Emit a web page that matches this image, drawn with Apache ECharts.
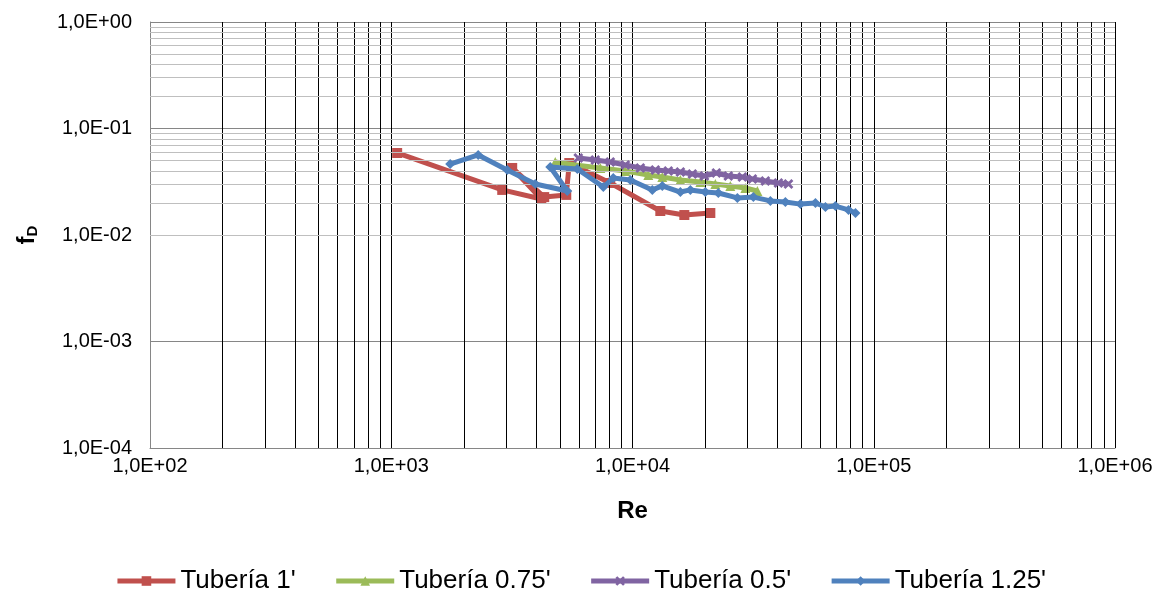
<!DOCTYPE html>
<html>
<head>
<meta charset="utf-8">
<script src="https://cdn.jsdelivr.net/npm/echarts@6/dist/echarts.min.js"></script>
<style>
  html, body { margin: 0; padding: 0; background: #fff; }
  #chart { width: 1161px; height: 594px; }
</style>
</head>
<body>
<div id="chart"></div>
<script>
// Re and f_D, one pair of arrays per pipe
const re1 = [1058, 2884, 4188, 3172, 4306, 5314, 5470, 8091, 13040, 16400, 21020]
const f1 = [0.0589, 0.0265, 0.0218, 0.0426, 0.0227, 0.0238, 0.0474, 0.0308, 0.0168, 0.0154, 0.0161]

const re075 = [4784, 5790, 7354, 9335, 11630, 13290, 15790, 19110, 22050, 25440, 29360, 32930]
const f075 = [0.0485, 0.0454, 0.0426, 0.0399, 0.0366, 0.0350, 0.0328, 0.0315, 0.0301, 0.0289, 0.0276, 0.0259]

const re05 = [5961, 7010, 8088, 9335, 10775, 12435, 14075, 15790, 17700, 19860, 22260, 24960, 28540, 31400, 35540, 40240, 44280]
const f05 = [0.0528, 0.0506, 0.0485, 0.0454, 0.0426, 0.0408, 0.0399, 0.0390, 0.0374, 0.0358, 0.0382, 0.0358, 0.0350, 0.0336, 0.0321, 0.0308, 0.0301]

const re125 = [1755, 2293, 3025, 3953, 5365, 4561, 5904, 7569, 8324, 9793, 12080, 13290, 15790, 17370, 20040, 22690, 27210, 31700, 37290, 43030, 49660, 57310, 63050, 69370, 78570, 83990]
const f125 = [0.0464, 0.0564, 0.0408, 0.0301, 0.0259, 0.0435, 0.0417, 0.0282, 0.0343, 0.0328, 0.0265, 0.0289, 0.0253, 0.0265, 0.0253, 0.0248, 0.0223, 0.0227, 0.0209, 0.0204, 0.0195, 0.0200, 0.0183, 0.0187, 0.0172, 0.0161]

const seriesNames = ["Tubería 1'", "Tubería 0.75'", "Tubería 0.5'", "Tubería 1.25'"]

const font = 'Liberation Sans, Arial, sans-serif'

function zip(xs, ys) {
  return xs.map((x, i) => [x, ys[i]])
}

// 1,0E+03 style labels like excel
function sci(v) {
  let e = Math.round(Math.log10(v))
  let s = Math.abs(e) < 10 ? '0' + Math.abs(e) : '' + Math.abs(e)
  return '1,0E' + (e < 0 ? '-' : '+') + s
}

// minor grid lines 2..9 in every decade
function minors(from, to) {
  let out = []
  for (let d = from; d < to; d++) {
    for (let k = 2; k <= 9; k++) out.push(k * Math.pow(10, d))
  }
  return out
}

const crossPath = 'path://M0,2L2,0L5,3L8,0L10,2L7,5L10,8L8,10L5,7L2,10L0,8L3,5Z'

const option = {
  animation: false,
  grid: { left: 150, right: 46, top: 22, bottom: 146 },
  legend: {
    top: 563,
    left: 'center',
    itemWidth: 58,
    itemHeight: 12,
    itemGap: 38,
    lineStyle: { width: 5 },
    textStyle: { fontFamily: font, fontSize: 26, color: '#000' },
    data: seriesNames
  },
  xAxis: {
    type: 'log',
    logBase: 10,
    min: 100,
    max: 1000000,
    name: 'Re',
    nameLocation: 'middle',
    nameGap: 51,
    nameTextStyle: { fontFamily: font, fontSize: 24, fontWeight: 'bold', color: '#000' },
    axisLine: { lineStyle: { color: '#868686' } },
    axisTick: { show: false },
    axisLabel: { formatter: sci, fontFamily: font, fontSize: 20, color: '#000', margin: 8 },
    splitLine: { show: true, lineStyle: { color: '#000', width: 1 } }
  },
  yAxis: {
    type: 'log',
    logBase: 10,
    min: 0.0001,
    max: 1,
    name: '{f|f}{d|D}',
    nameLocation: 'middle',
    nameRotate: 90,
    nameGap: 110,
    nameTextStyle: {
      rich: {
        f: { fontFamily: font, fontSize: 24, fontWeight: 'bold', color: '#000' },
        d: { fontFamily: font, fontSize: 15, fontWeight: 'bold', color: '#000', verticalAlign: 'bottom', padding: [10, 0, 0, 0] }
      }
    },
    axisLine: { show: true, lineStyle: { color: '#868686' } },
    axisTick: { show: false },
    axisLabel: { formatter: sci, fontFamily: font, fontSize: 20, color: '#000', margin: 18 },
    splitLine: { show: true, lineStyle: { color: '#868686', width: 1 } }
  },
  series: [
    {
      // grid only
      type: 'line',
      data: [],
      silent: true,
      z: 1,
      markLine: {
        silent: true,
        symbol: 'none',
        label: { show: false },
        animation: false,
        data: minors(2, 6).map(v => ({ xAxis: v, lineStyle: { color: '#000', width: 1, type: 'solid' } }))
          .concat(minors(-4, 0).map(v => ({ yAxis: v, lineStyle: { color: '#bfbfbf', width: 1, type: 'solid' } })))
      }
    },
    {
      name: seriesNames[0],
      type: 'line',
      data: zip(re1, f1),
      symbol: 'rect',
      symbolSize: 10,
      lineStyle: { color: '#c0504d', width: 5 },
      itemStyle: { color: '#c0504d' },
      z: 3
    },
    {
      name: seriesNames[1],
      type: 'line',
      data: zip(re075, f075),
      symbol: 'triangle',
      symbolSize: 10,
      lineStyle: { color: '#9bbb59', width: 5 },
      itemStyle: { color: '#9bbb59' },
      z: 4
    },
    {
      name: seriesNames[2],
      type: 'line',
      data: zip(re05, f05),
      symbol: crossPath,
      symbolSize: 10,
      lineStyle: { color: '#8064a2', width: 5 },
      itemStyle: { color: '#8064a2' },
      z: 5
    },
    {
      name: seriesNames[3],
      type: 'line',
      data: zip(re125, f125),
      symbol: 'diamond',
      symbolSize: 10,
      lineStyle: { color: '#4f81bd', width: 5 },
      itemStyle: { color: '#4f81bd' },
      z: 6
    }
  ]
}

const chart = echarts.init(document.getElementById('chart'), null, { renderer: 'canvas' })
chart.setOption(option)
</script>
</body>
</html>
